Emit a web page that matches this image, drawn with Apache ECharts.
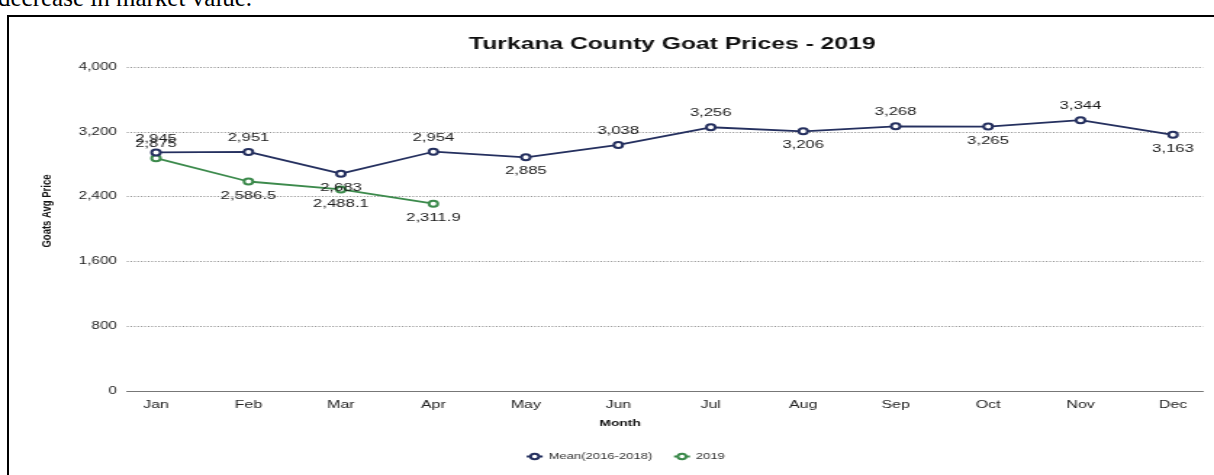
<!DOCTYPE html>
<html>
<head>
<meta charset="utf-8">
<title>Turkana County Goat Prices - 2019</title>
<script src="https://cdn.jsdelivr.net/npm/echarts@6/dist/echarts.min.js"></script>
<style>
  html, body { margin: 0; padding: 0; background: #fff; overflow: hidden; }
  body { width: 1214px; height: 475px; position: relative; }
  #caption {
    position: absolute; left: -2px; top: -15px;
    font-family: "Liberation Serif", "Times New Roman", serif;
    font-size: 25px; line-height: 25px; color: #000; white-space: nowrap;
  }
  #frame {
    position: absolute; left: 7px; top: 15px; width: 1230px; height: 480px;
    border-left: 2px solid #000; border-top: 2px solid #000;
  }
  /* the chart is laid out narrow and widened horizontally */
  #chart {
    position: absolute; left: 0; top: 0; width: 837px; height: 475px;
    transform: scaleX(1.4504); transform-origin: 0 0;
  }
</style>
</head>
<body>
<div id="caption">decrease in market value.</div>
<div id="frame"></div>
<div id="chart"></div>
<script>
// Monthly average goat prices, Turkana County
const months = ['Jan', 'Feb', 'Mar', 'Apr', 'May', 'Jun', 'Jul', 'Aug', 'Sep', 'Oct', 'Nov', 'Dec'];
const meanPrices = [2945, 2951, 2683, 2954, 2885, 3038, 3256, 3206, 3268, 3265, 3344, 3163];
const prices2019 = [2875, 2586.5, 2488.1, 2311.9];
const seriesNames = ['Mean(2016-2018)', '2019'];
const yTicks = { min: 0, max: 4000, step: 800 };

// where each value label sits relative to its point
const meanLabelSide = ['top', 'top', 'bottom', 'top', 'bottom', 'top', 'top', 'bottom', 'top', 'bottom', 'top', 'bottom'];
const label2019Side = ['top', 'bottom', 'bottom', 'bottom'];

const S = 1.4504;              // horizontal widening of the chart box
const W = 837;                 // chart box width before widening
const px = x => x / S;         // page x -> chart x

const fmt = v => Number(v).toLocaleString('en-US');
const labelFont = { fontFamily: 'Liberation Sans, Arial, sans-serif', fontSize: 11.5, color: '#1a1a1a' };

function withLabels(values, sides) {
  return values.map((v, i) => ({ value: v, label: { position: sides[i] } }));
}

const chart = echarts.init(document.getElementById('chart'), null, { renderer: 'canvas' });

chart.setOption({
  animation: false,
  backgroundColor: 'transparent',
  textStyle: { fontFamily: 'Liberation Sans, Arial, sans-serif' },
  title: {
    text: 'Turkana County Goat Prices - 2019',
    left: px(665), top: 31, textAlign: 'center',
    textStyle: { fontSize: 17, fontWeight: 'bold', color: '#111', fontFamily: 'Liberation Sans, Arial, sans-serif' }
  },
  legend: {
    data: seriesNames,
    left: px(518), top: 447,
    itemWidth: 11, itemHeight: 7, itemGap: 14,
    textStyle: { fontSize: 9, color: '#333', padding: [0, 0, 0, -1] }
  },
  grid: [
    // frame grid: gridlines and baseline span the full width
    { left: px(127), right: W - px(1203), top: 67, bottom: 84, containLabel: false },
    // data grid: first and last month inset from the edges
    { left: px(156), right: W - px(1173), top: 67, bottom: 84, containLabel: false }
  ],
  xAxis: [
    {
      gridIndex: 0, type: 'value', min: 0, max: 1,
      axisLine: { show: true, lineStyle: { color: '#777', width: 1.2 } },
      axisTick: { show: false }, axisLabel: { show: false }, splitLine: { show: false }
    },
    {
      gridIndex: 1, type: 'category', data: months, boundaryGap: false,
      axisLine: { show: false }, axisTick: { show: false }, splitLine: { show: false },
      axisLabel: { fontSize: 11, color: '#222', margin: 8 }
    }
  ],
  yAxis: [
    {
      gridIndex: 0, type: 'value', min: yTicks.min, max: yTicks.max, interval: yTicks.step,
      axisLine: { show: false }, axisTick: { show: false },
      axisLabel: { formatter: v => fmt(v), fontSize: 10.5, color: '#222', margin: 7 },
      splitLine: { show: true, lineStyle: { type: [1, 1.4], color: '#8a8a8a', width: 1 } }
    },
    {
      gridIndex: 1, type: 'value', min: yTicks.min, max: yTicks.max, interval: yTicks.step,
      show: false, splitLine: { show: false }
    }
  ],
  graphic: [
    {
      type: 'text', x: px(47), y: 211, rotation: Math.PI / 2,
      style: { text: 'Goats Avg Price', fontSize: 9.5, fontWeight: 'bold', fill: '#111',
               align: 'center', verticalAlign: 'middle', fontFamily: 'Liberation Sans, Arial, sans-serif' }
    },
    {
      type: 'text', x: px(620), y: 423,
      style: { text: 'Month', fontSize: 9.5, fontWeight: 'bold', fill: '#111',
               align: 'center', verticalAlign: 'middle', fontFamily: 'Liberation Sans, Arial, sans-serif' }
    }
  ],
  series: [
    {
      name: seriesNames[0], type: 'line', xAxisIndex: 1, yAxisIndex: 1,
      data: withLabels(meanPrices, meanLabelSide),
      symbol: 'emptyCircle', symbolSize: 6,
      lineStyle: { color: '#25305f', width: 1.8 },
      itemStyle: { color: '#25305f', borderWidth: 1.5 },
      label: Object.assign({ show: true, distance: 4, formatter: p => fmt(p.value) }, labelFont),
      z: 3
    },
    {
      name: seriesNames[1], type: 'line', xAxisIndex: 1, yAxisIndex: 1,
      data: withLabels(prices2019, label2019Side),
      symbol: 'emptyCircle', symbolSize: 6,
      lineStyle: { color: '#3c8a4c', width: 1.8 },
      itemStyle: { color: '#3c8a4c', borderWidth: 1.5 },
      label: Object.assign({ show: true, distance: 4, formatter: p => fmt(p.value) }, labelFont),
      z: 2
    }
  ]
});
</script>
</body>
</html>
